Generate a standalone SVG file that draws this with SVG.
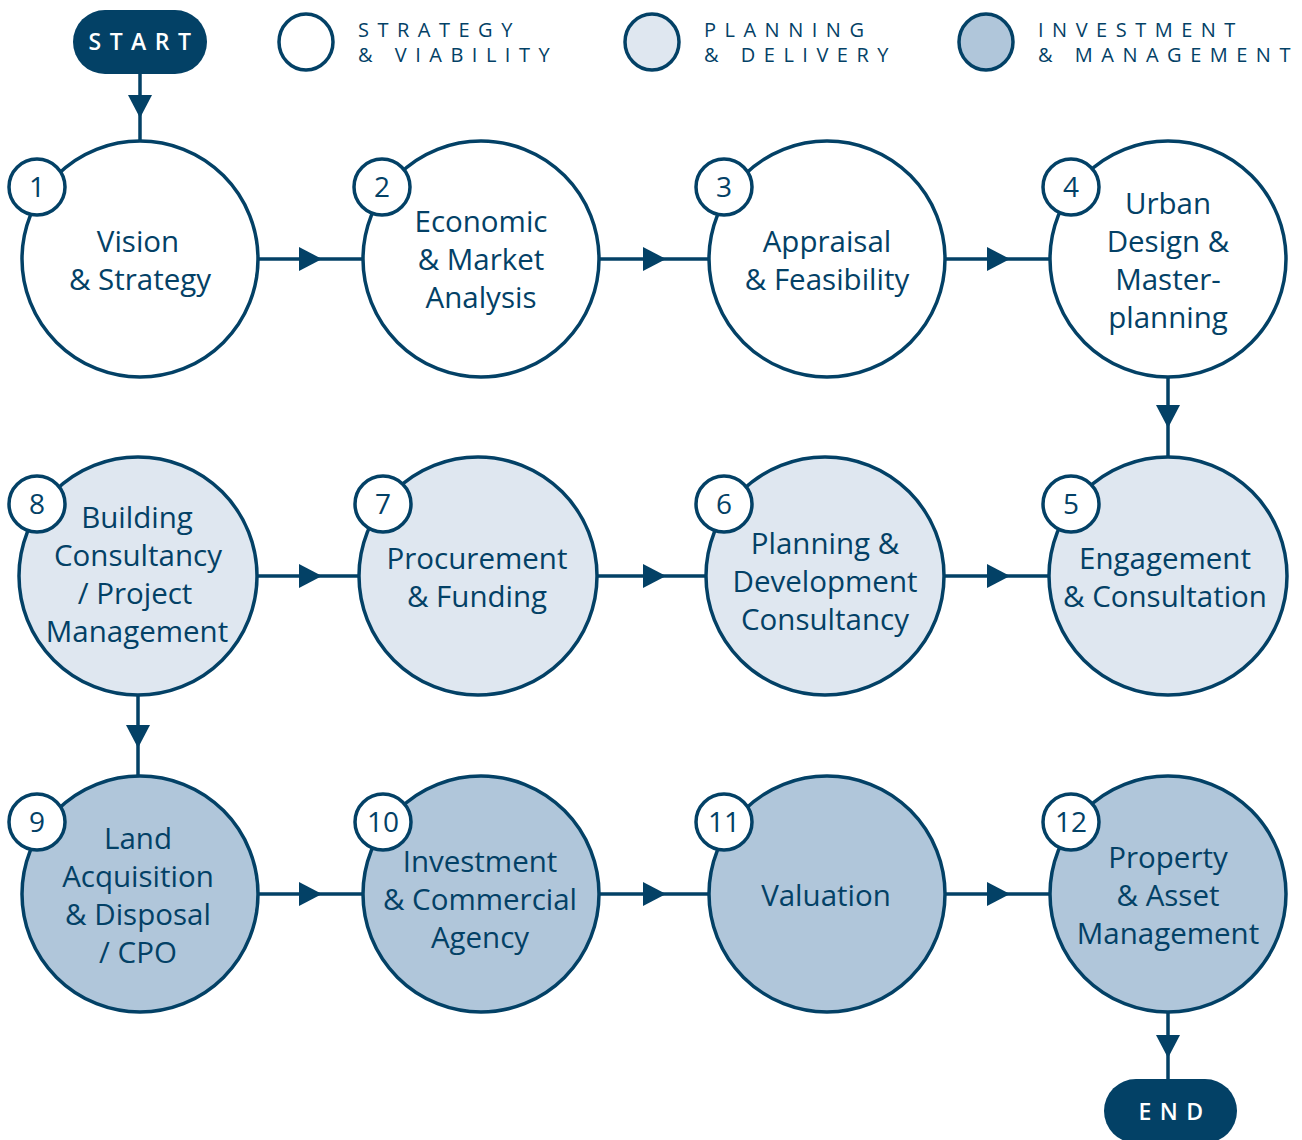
<svg xmlns="http://www.w3.org/2000/svg" width="1302" height="1140" viewBox="0 0 1302 1140">
<defs>
<style>
.n{stroke:#034166;stroke-width:3.5}
.w{fill:#ffffff}
.l{fill:#dfe7f0}
.d{fill:#b0c6da}
.b{fill:#ffffff;stroke:#034166;stroke-width:3.5}
.t{font-family:"Open Sans","Noto Sans",sans-serif;font-size:29.5px;fill:#034166;text-anchor:middle}
.num{font-family:"Open Sans","Noto Sans",sans-serif;font-size:28px;fill:#034166;text-anchor:middle}
.lg{font-family:"Open Sans","Noto Sans",sans-serif;font-size:20px;fill:#034166;letter-spacing:8.5px}
.pt{font-family:"Open Sans","Noto Sans",sans-serif;font-size:23px;font-weight:600;fill:#ffffff;letter-spacing:8.5px;text-anchor:middle}
.c{stroke:#034166;stroke-width:3.5;fill:none}
.ah{fill:#034166}
</style>
</defs>
<rect width="1302" height="1140" fill="#ffffff"/>

<g id="legend">
<ellipse cx="306" cy="42" rx="27" ry="28" class="n w"/>
<text class="lg" x="358" y="37">STRATEGY</text>
<text class="lg" x="358" y="62">&amp; VIABILITY</text>
<ellipse cx="652" cy="42" rx="27" ry="28" class="n l"/>
<text class="lg" x="704" y="37">PLANNING</text>
<text class="lg" x="704" y="62">&amp; DELIVERY</text>
<ellipse cx="986" cy="42" rx="27" ry="28" class="n d"/>
<text class="lg" x="1038" y="37">INVESTMENT</text>
<text class="lg" x="1038" y="62">&amp; MANAGEMENT</text>
</g>

<g id="connectors">
<line class="c" x1="140" y1="74" x2="140" y2="141"/>
<polygon class="ah" points="128,95 152,95 140,118"/>
<line class="c" x1="259" y1="259" x2="362" y2="259"/>
<polygon class="ah" points="299,247 299,271 322,259"/>
<line class="c" x1="600" y1="259" x2="708" y2="259"/>
<polygon class="ah" points="643,247 643,271 666,259"/>
<line class="c" x1="946" y1="259" x2="1050" y2="259"/>
<polygon class="ah" points="987,247 987,271 1010,259"/>
<line class="c" x1="1168" y1="377" x2="1168" y2="458"/>
<polygon class="ah" points="1156,405 1180,405 1168,428"/>
<line class="c" x1="258" y1="576" x2="360" y2="576"/>
<polygon class="ah" points="299,564 299,588 322,576"/>
<line class="c" x1="598" y1="576" x2="706" y2="576"/>
<polygon class="ah" points="643,564 643,588 666,576"/>
<line class="c" x1="944" y1="576" x2="1050" y2="576"/>
<polygon class="ah" points="987,564 987,588 1010,576"/>
<line class="c" x1="138" y1="696" x2="138" y2="776"/>
<polygon class="ah" points="126,725 150,725 138,748"/>
<line class="c" x1="259" y1="894" x2="362" y2="894"/>
<polygon class="ah" points="299,882 299,906 322,894"/>
<line class="c" x1="600" y1="894" x2="708" y2="894"/>
<polygon class="ah" points="643,882 643,906 666,894"/>
<line class="c" x1="946" y1="894" x2="1050" y2="894"/>
<polygon class="ah" points="987,882 987,906 1010,894"/>
<line class="c" x1="1168" y1="1012" x2="1168" y2="1080"/>
<polygon class="ah" points="1156,1035 1180,1035 1168,1058"/>
</g>

<g id="start">
<rect x="73" y="10" width="134" height="64" rx="32" fill="#034166"/>
<text class="pt" x="144" y="50">START</text>
</g>

<g id="end">
<rect x="1104" y="1079" width="133" height="64" rx="32" fill="#034166"/>
<text class="pt" x="1175" y="1120">END</text>
</g>

<g id="node1">
<circle cx="140" cy="259" r="118" class="n w"/>
<text class="t" x="138" y="252">Vision</text>
<text class="t" x="140" y="290">&amp; Strategy</text>
<circle cx="37" cy="187" r="28" class="b"/>
<text class="num" x="37" y="197">1</text>
</g>
<g id="node2">
<circle cx="481" cy="259" r="118" class="n w"/>
<text class="t" x="481" y="232">Economic</text>
<text class="t" x="481" y="270">&amp; Market</text>
<text class="t" x="481" y="308">Analysis</text>
<circle cx="382" cy="187" r="28" class="b"/>
<text class="num" x="382" y="197">2</text>
</g>
<g id="node3">
<circle cx="827" cy="259" r="118" class="n w"/>
<text class="t" x="827" y="252">Appraisal</text>
<text class="t" x="827" y="290">&amp; Feasibility</text>
<circle cx="724" cy="187" r="28" class="b"/>
<text class="num" x="724" y="197">3</text>
</g>
<g id="node4">
<circle cx="1168" cy="259" r="118" class="n w"/>
<text class="t" x="1168" y="214">Urban</text>
<text class="t" x="1168" y="252">Design &amp;</text>
<text class="t" x="1168" y="290">Master-</text>
<text class="t" x="1168" y="328">planning</text>
<circle cx="1071" cy="187" r="28" class="b"/>
<text class="num" x="1071" y="197">4</text>
</g>

<g id="node8">
<circle cx="138" cy="576" r="119" class="n l"/>
<text class="t" x="137" y="528">Building</text>
<text class="t" x="138" y="566">Consultancy</text>
<text class="t" x="135" y="604">/ Project</text>
<text class="t" x="137" y="642">Management</text>
<circle cx="37" cy="504" r="28" class="b"/>
<text class="num" x="37" y="514">8</text>
</g>
<g id="node7">
<circle cx="478" cy="576" r="119" class="n l"/>
<text class="t" x="477" y="569">Procurement</text>
<text class="t" x="477" y="607">&amp; Funding</text>
<circle cx="383" cy="504" r="28" class="b"/>
<text class="num" x="383" y="514">7</text>
</g>
<g id="node6">
<circle cx="825" cy="576" r="119" class="n l"/>
<text class="t" x="825" y="554">Planning &amp;</text>
<text class="t" x="825" y="592">Development</text>
<text class="t" x="825" y="630">Consultancy</text>
<circle cx="724" cy="504" r="28" class="b"/>
<text class="num" x="724" y="514">6</text>
</g>
<g id="node5">
<circle cx="1168" cy="576" r="119" class="n l"/>
<text class="t" x="1165" y="569">Engagement</text>
<text class="t" x="1165" y="607">&amp; Consultation</text>
<circle cx="1071" cy="504" r="28" class="b"/>
<text class="num" x="1071" y="514">5</text>
</g>

<g id="node9">
<circle cx="140" cy="894" r="118" class="n d"/>
<text class="t" x="138" y="849">Land</text>
<text class="t" x="138" y="887">Acquisition</text>
<text class="t" x="138" y="925">&amp; Disposal</text>
<text class="t" x="138" y="963">/ CPO</text>
<circle cx="37" cy="822" r="28" class="b"/>
<text class="num" x="37" y="832">9</text>
</g>
<g id="node10">
<circle cx="481" cy="894" r="118" class="n d"/>
<text class="t" x="480" y="872">Investment</text>
<text class="t" x="480" y="910">&amp; Commercial</text>
<text class="t" x="480" y="948">Agency</text>
<circle cx="383" cy="822" r="28" class="b"/>
<text class="num" x="383" y="832">10</text>
</g>
<g id="node11">
<circle cx="827" cy="894" r="118" class="n d"/>
<text class="t" x="826" y="906">Valuation</text>
<circle cx="724" cy="822" r="28" class="b"/>
<text class="num" x="724" y="832">11</text>
</g>
<g id="node12">
<circle cx="1168" cy="894" r="118" class="n d"/>
<text class="t" x="1168" y="868">Property</text>
<text class="t" x="1168" y="906">&amp; Asset</text>
<text class="t" x="1168" y="944">Management</text>
<circle cx="1071" cy="822" r="28" class="b"/>
<text class="num" x="1071" y="832">12</text>
</g>
</svg>
